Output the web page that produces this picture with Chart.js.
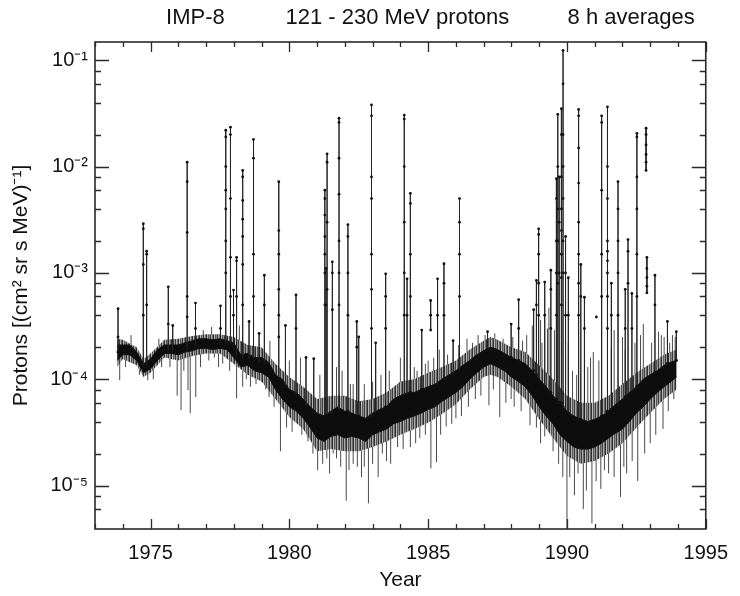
<!DOCTYPE html>
<html><head><meta charset="utf-8">
<script src="https://cdn.jsdelivr.net/npm/chart.js@4/dist/chart.umd.min.js"></script>
<style>html,body{margin:0;padding:0;background:#fff}#wrap{width:740px;height:596px}</style>
</head><body><div id="wrap"><canvas id="c" width="740" height="596"></canvas></div>
<script>
// ---------- DATA ----------
const titleParts = ['IMP-8', '121 - 230 MeV protons', '8 h averages'];
const xTitle = 'Year';
const yTitle = 'Protons [(cm\u00B2 sr s MeV)\u207B\u00B9]';
const xTickYears = [1973,1974,1975,1976,1977,1978,1979,1980,1981,1982,1983,1984,1985,1986,1987,1988,1989,1990,1991,1992,1993,1994,1995];
const xLabelYears = [1975,1980,1985,1990,1995];
const yMajorValues = [1e-5,1e-4,1e-3,1e-2,1e-1];
const yMajorLabels = ['10\u207B\u2075','10\u207B\u2074','10\u207B\u00B3','10\u207B\u00B2','10\u207B\u00B9'];
const yMinorValues = [6e-6,8e-6,2e-5,4e-5,6e-5,8e-5,2e-4,4e-4,6e-4,8e-4,2e-3,4e-3,6e-3,8e-3,2e-2,4e-2,6e-2,8e-2];

// dense core of the quiet-time band
const coreYears = [1973.80,1974.00,1974.25,1974.50,1974.75,1975.00,1975.25,1975.50,1975.75,1976.00,1976.25,1976.50,1976.75,1977.00,1977.25,1977.50,1977.75,1978.00,1978.25,1978.50,1978.75,1979.00,1979.25,1979.50,1979.75,1980.00,1980.25,1980.50,1980.75,1981.00,1981.25,1981.50,1981.75,1982.00,1982.25,1982.50,1982.75,1983.00,1983.25,1983.50,1983.75,1984.00,1984.25,1984.50,1984.75,1985.00,1985.25,1985.50,1985.75,1986.00,1986.25,1986.50,1986.75,1987.00,1987.25,1987.50,1987.75,1988.00,1988.25,1988.50,1988.75,1989.00,1989.25,1989.50,1989.75,1990.00,1990.25,1990.50,1990.75,1991.00,1991.25,1991.50,1991.75,1992.00,1992.25,1992.50,1992.75,1993.00,1993.25,1993.50,1993.75,1993.95];
const coreHigh = [2.1e-4,2.1e-4,2.1e-4,1.8e-4,1.4e-4,1.55e-4,1.9e-4,2.1e-4,2.1e-4,2.1e-4,2.2e-4,2.3e-4,2.4e-4,2.4e-4,2.35e-4,2.4e-4,2.3e-4,2.2e-4,1.7e-4,1.75e-4,1.6e-4,1.6e-4,1.45e-4,1.1e-4,1.0e-4,8e-5,7.5e-5,6.5e-5,5.5e-5,4.8e-5,4.5e-5,5.0e-5,5.5e-5,5.0e-5,4.8e-5,4.5e-5,4.3e-5,4.8e-5,5.2e-5,5.5e-5,6.5e-5,7e-5,7.5e-5,7.5e-5,8e-5,8.5e-5,9e-5,1.0e-4,1.1e-4,1.2e-4,1.35e-4,1.5e-4,1.7e-4,1.85e-4,2.0e-4,1.9e-4,1.75e-4,1.6e-4,1.5e-4,1.4e-4,1.2e-4,1.0e-4,8.5e-5,7e-5,6e-5,5.0e-5,4.5e-5,4.2e-5,4.0e-5,4.2e-5,4.5e-5,5.0e-5,5.8e-5,6.5e-5,7.5e-5,8.5e-5,1.0e-4,1.1e-4,1.2e-4,1.35e-4,1.45e-4,1.5e-4];
const coreLow = [1.5e-4,1.7e-4,1.7e-4,1.5e-4,1.15e-4,1.25e-4,1.5e-4,1.75e-4,1.75e-4,1.7e-4,1.8e-4,1.85e-4,1.95e-4,1.95e-4,1.9e-4,1.95e-4,1.9e-4,1.6e-4,1.3e-4,1.35e-4,1.2e-4,1.15e-4,1.05e-4,8e-5,6.5e-5,5.5e-5,5.0e-5,4.3e-5,3.5e-5,2.8e-5,2.6e-5,2.9e-5,3.0e-5,2.8e-5,2.9e-5,2.8e-5,2.6e-5,3.0e-5,3.2e-5,3.4e-5,3.8e-5,4e-5,4.3e-5,4.5e-5,4.8e-5,5.2e-5,5.5e-5,6.2e-5,6.8e-5,7.5e-5,8.5e-5,1.0e-4,1.15e-4,1.3e-4,1.4e-4,1.3e-4,1.2e-4,1.05e-4,9.5e-5,8.5e-5,7e-5,5.5e-5,4.5e-5,3.8e-5,3.0e-5,2.6e-5,2.3e-5,2.2e-5,2.2e-5,2.3e-5,2.5e-5,2.8e-5,3.1e-5,3.4e-5,4.0e-5,4.8e-5,5.5e-5,6.5e-5,7.5e-5,8.5e-5,9.5e-5,1.05e-4];

// grey fuzz around the band
const fuzzYears = [1973.80,1974.00,1974.50,1974.75,1975.00,1975.50,1976.00,1976.50,1977.00,1977.50,1978.00,1978.50,1979.00,1979.50,1980.00,1980.50,1981.00,1981.50,1982.00,1982.50,1983.00,1983.50,1984.00,1984.50,1985.00,1985.50,1986.00,1986.50,1987.00,1987.25,1987.50,1988.00,1988.50,1989.00,1989.50,1990.00,1990.50,1991.00,1991.50,1992.00,1992.50,1993.00,1993.50,1993.95];
const fuzzHigh = [2.4e-4,2.35e-4,2.0e-4,1.55e-4,1.75e-4,2.35e-4,2.4e-4,2.55e-4,2.65e-4,2.65e-4,2.5e-4,2.1e-4,2.0e-4,1.4e-4,1.05e-4,8.5e-5,6.5e-5,7e-5,7e-5,6.2e-5,6.5e-5,7.5e-5,9.5e-5,1.0e-4,1.15e-4,1.3e-4,1.5e-4,1.9e-4,2.3e-4,2.5e-4,2.35e-4,2.0e-4,1.8e-4,1.35e-4,1.0e-4,7e-5,6e-5,6e-5,7e-5,9e-5,1.15e-4,1.4e-4,1.7e-4,1.9e-4];
const fuzzLow = [1.3e-4,1.55e-4,1.35e-4,1.05e-4,1.15e-4,1.6e-4,1.5e-4,1.65e-4,1.75e-4,1.75e-4,1.4e-4,1.1e-4,9.5e-5,6.5e-5,4.4e-5,3.4e-5,2.1e-5,2.2e-5,2.1e-5,2.1e-5,2.3e-5,2.6e-5,3.0e-5,3.4e-5,3.9e-5,4.7e-5,5.8e-5,8e-5,1.05e-4,1.1e-4,1.05e-4,8.5e-5,6.5e-5,4.2e-5,2.8e-5,1.9e-5,1.6e-5,1.7e-5,2.0e-5,2.5e-5,3.5e-5,4.8e-5,6.5e-5,8e-5];

// single grey excursions (dips below and small rises above the band)
const noiseYears = [1973.89,1974.90,1975.70,1975.96,1976.10,1976.35,1976.43,1976.63,1977.30,1977.60,1978.10,1978.32,1978.60,1979.00,1979.27,1979.68,1980.20,1980.67,1981.02,1981.20,1981.58,1981.85,1982.05,1982.30,1982.60,1982.85,1983.20,1983.50,1983.90,1984.36,1984.70,1985.10,1985.30,1985.65,1986.00,1986.70,1987.19,1987.58,1987.99,1988.67,1989.20,1989.50,1990.00,1990.27,1990.59,1990.90,1991.22,1991.50,1991.93,1992.15,1992.55,1993.00,1993.46,1993.85,
  1974.10,1974.60,1975.10,1975.40,1976.20,1976.80,1977.10,1977.45,1977.85,1978.45,1978.80,1979.15,1979.45,1979.90,1980.10,1980.45,1980.85,1981.35,1981.45,1981.70,1982.15,1982.45,1982.70,1983.00,1983.35,1983.65,1984.10,1984.55,1984.90,1985.45,1985.85,1986.20,1986.45,1986.90,1987.35,1987.80,1988.10,1988.35,1988.90,1989.05,1989.70,1989.85,1990.10,1990.40,1990.70,1991.05,1991.35,1991.70,1992.05,1992.35,1992.80,1993.20,1993.65,
  1974.30,1975.30,1976.90,1977.20,1978.20,1979.30,1980.00,1980.40,1981.10,1981.70,1982.30,1982.70,1983.30,1983.80,1984.50,1984.90,1985.20,1985.70,1986.40,1986.80,1987.40,1987.70,1988.55,1989.10,1989.35,1989.95,1990.20,1990.75,1990.95,1991.60,1992.00,1992.65,1992.75,1993.30,1993.50,1993.80,
  1981.90,1982.20,1983.00,1983.60,1984.00,1984.60,1985.00,1985.40,1986.10,1986.60,1987.05,1988.05,1988.40,1988.75,1989.05,1989.30,1989.55,1990.05,1990.35,1990.85,1991.15,1991.70,1992.10,1992.45,1993.05,1993.40,1993.70,1993.90];
const noiseLow = [9.8e-5,9.8e-5,1.3e-4,7e-5,5.1e-5,7.9e-5,4.8e-5,6.8e-5,1.6e-4,1.4e-4,6.6e-5,8.5e-5,8.5e-5,9.5e-5,6.8e-5,2.1e-5,4.9e-5,2.6e-5,1.39e-5,1.6e-5,2.0e-5,1.5e-5,7.2e-6,1.6e-5,1.2e-5,6.8e-6,1.2e-5,1.7e-5,2.3e-5,2.3e-5,2.8e-5,1.45e-5,1.66e-5,3.6e-5,4.3e-5,6.5e-5,5.7e-5,4.4e-5,6.5e-5,3.7e-5,2.9e-5,2.1e-5,3.9e-6,8.1e-6,6.0e-6,4.4e-6,9.3e-6,1.3e-5,7.8e-6,1.3e-5,1.1e-5,2.5e-5,3.4e-5,6.5e-5,
  1.3e-4,1.1e-4,1.0e-4,1.3e-4,1.2e-4,1.3e-4,1.5e-4,1.3e-4,1.2e-4,1.0e-4,9e-5,8e-5,5.5e-5,3.5e-5,3.2e-5,3e-5,2e-5,1.8e-5,1.3e-5,1.8e-5,1.4e-5,1.5e-5,1.5e-5,1.6e-5,2e-5,1.6e-5,2.2e-5,2.5e-5,3e-5,3e-5,3.8e-5,4.5e-5,5.5e-5,7e-5,8e-5,6e-5,5.5e-5,5e-5,3.5e-5,2.5e-5,1.6e-5,1.2e-5,1.2e-5,1.3e-5,9e-6,1.1e-5,1.4e-5,1.2e-5,1.5e-5,1.7e-5,2e-5,3e-5,5e-5,
  2.0e-4,1.9e-4,2.4e-4,2.35e-4,1.9e-4,1.4e-4,8e-5,7e-5,4.7e-5,5.4e-5,4.7e-5,4.4e-5,5.3e-5,6.5e-5,7.5e-5,8.2e-5,8.8e-5,1.08e-4,1.45e-4,1.72e-4,1.95e-4,1.78e-4,1.38e-4,9.5e-5,7.8e-5,5e-5,4.6e-5,4e-5,4.1e-5,5.2e-5,6.5e-5,9.2e-5,1.0e-4,1.22e-4,1.35e-4,1.46e-4,
  5.5e-5,5e-5,4.8e-5,6e-5,7e-5,7.5e-5,8.5e-5,9.5e-5,1.25e-4,1.55e-4,1.9e-4,1.6e-4,1.45e-4,1.2e-4,1e-4,8e-5,7e-5,5e-5,4.4e-5,4e-5,4.3e-5,5.6e-5,6.8e-5,8e-5,1.1e-4,1.3e-4,1.43e-4,1.5e-4];
const noiseHigh = [1.6e-4,1.2e-4,1.7e-4,1.7e-4,1.7e-4,1.8e-4,1.8e-4,1.9e-4,1.9e-4,1.9e-4,1.5e-4,1.3e-4,1.3e-4,1.15e-4,1.05e-4,7e-5,5.5e-5,4e-5,3e-5,2.8e-5,3e-5,3e-5,2.8e-5,2.9e-5,2.8e-5,2.7e-5,3.1e-5,3.4e-5,3.9e-5,4.3e-5,4.7e-5,5.2e-5,5.5e-5,6.2e-5,7.5e-5,1.1e-4,1.35e-4,1.3e-4,1.05e-4,7.5e-5,4.7e-5,3.8e-5,2.6e-5,2.3e-5,2.2e-5,2.2e-5,2.5e-5,2.8e-5,3.3e-5,3.7e-5,4.8e-5,6.5e-5,8.3e-5,1.0e-4,
  1.7e-4,1.5e-4,1.3e-4,1.6e-4,1.7e-4,1.9e-4,1.95e-4,1.9e-4,1.9e-4,1.35e-4,1.2e-4,1.15e-4,8e-5,6e-5,5.5e-5,4.5e-5,3.5e-5,2.6e-5,2.8e-5,3e-5,2.8e-5,2.8e-5,2.6e-5,3e-5,3.3e-5,3.6e-5,4e-5,4.5e-5,5e-5,5.8e-5,7e-5,8.5e-5,1e-4,1.2e-4,1.4e-4,1.2e-4,1e-4,9.5e-5,6.5e-5,5.5e-5,3.2e-5,3e-5,2.5e-5,2.2e-5,2.2e-5,2.3e-5,2.6e-5,3e-5,3.5e-5,4e-5,5.5e-5,7.5e-5,9e-5,
  2.6e-4,2.4e-4,2.9e-4,3.1e-4,3.2e-4,2.3e-4,1.5e-4,1.6e-4,1.1e-4,1.3e-4,9e-5,9e-5,1.1e-4,8e-5,1.3e-4,1.4e-4,1.6e-4,1.7e-4,2.4e-4,2.6e-4,2.7e-4,2.4e-4,2.6e-4,2.2e-4,4.7e-4,1.6e-4,1.2e-4,1.3e-4,1.8e-4,2.0e-4,2.5e-4,2.6e-4,3.3e-4,2.8e-4,2.5e-4,2.6e-4,
  1.2e-4,9e-5,9.5e-5,1.2e-4,1.6e-4,1.2e-4,1.5e-4,1.9e-4,2.1e-4,2.2e-4,2.6e-4,2.5e-4,2.3e-4,3.2e-4,3.6e-4,3e-4,2.9e-4,2.2e-4,1.1e-4,1.6e-4,1.5e-4,2.9e-4,1.9e-4,2.2e-4,2.2e-4,2.6e-4,2.2e-4,2.5e-4];

// solar particle events: onset level, peak and the following 8 h values
const spikeYears = [1973.83,1974.74,1974.86,1975.64,1975.80,1976.32,1976.62,1977.52,1977.71,1977.88,1977.99,1978.10,1978.32,1978.55,1978.71,1978.91,1979.10,1979.62,1979.86,1980.24,1980.60,1980.88,1981.28,1981.32,1981.36,1981.55,1981.79,1982.11,1982.43,1982.50,1982.96,1983.11,1983.47,1984.14,1984.24,1984.36,1984.77,1985.34,1985.57,1985.90,1986.13,1987.14,1987.99,1988.26,1988.80,1988.90,1988.98,1989.20,1989.42,1989.62,1989.67,1989.72,1989.80,1989.86,1989.95,1990.05,1990.42,1990.50,1990.63,1991.25,1991.46,1991.60,1991.84,1992.10,1992.20,1992.34,1992.52,1993.17,1993.62,1993.94];
const spikeBase = [1.8e-4,1.3e-4,1.3e-4,1.8e-4,1.8e-4,1.9e-4,2.0e-4,2.1e-4,2.1e-4,2.1e-4,2.0e-4,1.6e-4,1.5e-4,1.5e-4,1.5e-4,1.4e-4,1.4e-4,1.0e-4,8.5e-5,7e-5,5.5e-5,5e-5,4.5e-5,4.5e-5,4.5e-5,4.8e-5,5e-5,5e-5,4.5e-5,4.5e-5,4.5e-5,4.8e-5,5.5e-5,7e-5,7e-5,7.5e-5,8e-5,9e-5,1e-4,1.1e-4,1.2e-4,1.9e-4,1.6e-4,1.5e-4,1.2e-4,1.1e-4,1.0e-4,8.5e-5,7.5e-5,6.5e-5,6e-5,6e-5,6e-5,5.5e-5,5e-5,4.8e-5,4.2e-5,4.2e-5,4e-5,4.5e-5,5e-5,5.2e-5,5.8e-5,6.8e-5,7e-5,7.5e-5,8.5e-5,1.15e-4,1.4e-4,1.5e-4];
const spikePeaks = [4.6e-4,2.9e-3,1.6e-3,7.4e-4,3.2e-4,1.1e-2,5.2e-4,4.9e-4,2.2e-2,2.35e-2,6.9e-4,1.4e-3,9.2e-3,3.5e-4,1.8e-2,2.7e-4,9.5e-4,7.2e-3,3.2e-4,6.2e-4,1.6e-4,1.56e-4,6e-3,1.1e-3,1.32e-2,1.27e-3,2.85e-2,2.85e-3,3.5e-4,2.5e-4,3.8e-2,2.2e-4,9.8e-4,3.05e-2,8.8e-4,5.6e-3,2.9e-4,8.8e-4,1.22e-3,2.3e-4,5.0e-3,2.8e-4,3.3e-4,5.6e-4,4.5e-4,8.5e-4,2.6e-3,8.2e-4,1.06e-3,7.7e-3,3.1e-2,8e-3,3.5e-2,1.24e-1,2.2e-3,9e-4,3.45e-2,1.2e-3,5.9e-4,3.0e-2,3.65e-2,8e-4,7.2e-3,7e-4,2.06e-3,6.4e-4,2.05e-2,9.5e-4,3.5e-4,2.8e-4];
const spikeDecay = [[2.5e-4],[2.6e-3,1.2e-3,4e-4],[1.5e-3,5e-4],[3.3e-4],[],[7.2e-3,2.4e-3,6e-4,3.85e-4],[3e-4],[3e-4],[1.9e-2,1e-2,6e-3,4e-3,2e-3,1e-3],[2e-2,5e-3,1.4e-3,6e-4],[4e-4],[1.3e-3,6e-4],[8e-3,4.8e-3,3.2e-3,2.2e-3,1.2e-3,5e-4],[],[1.2e-2,1.5e-3,6e-4],[],[5e-4],[2.5e-3,1.5e-3,7e-4,4e-4,2.5e-4],[],[3e-4],[],[],[5e-3,3.5e-3,2.2e-3,1.5e-3,1e-3,5e-4],[5e-4],[1.1e-2,3e-3,7e-4],[1e-3,4.5e-4],[2.6e-2,1.2e-2,5.5e-3,2e-3,1e-3,5e-4],[2.2e-3,1e-3,4e-4],[2e-4],[],[3e-2,8e-3,5e-3,1.5e-3,7e-4,3e-4],[],[6e-4,3e-4],[2.8e-2,1e-2,3e-3,1e-3,4e-4],[4e-4],[4.5e-3,1.5e-3,6e-4],[],[4e-4],[8e-4,4e-4],[],[3e-3,1.5e-3,6e-4],[],[],[3e-4],[],[5e-4],[2.3e-3,1.5e-3,8e-4,4e-4],[4e-4],[7e-4,3e-4],[5e-3,2e-3,1e-3,4e-4],[1e-2,4e-3,2e-3,8e-4],[3e-3,1e-3],[2e-2,8e-3,4e-3,2.5e-3,1.5e-3,9e-4,5e-4],[6e-2,2e-2,1e-2,5e-3,2e-3,1e-3],[1e-3,4e-4],[4e-4],[3e-2,1.5e-2,7e-3,3e-3,1.5e-3,8e-4,4e-4],[6e-4],[3e-4],[2.6e-2,6e-3,1.5e-3,6e-4],[1e-2,5e-3,2e-3,1.6e-3,1.3e-3,1e-3,6e-4,3e-4],[4e-4],[4e-3,2e-3,1e-3,4e-4],[3e-4],[1.6e-3,8e-4],[3e-4],[1.9e-2,8e-3,4e-3,1.5e-3,6e-4],[5e-4],[],[]];

// isolated runs of 8 h values (data gaps around them)
const segYears = [1985.09,1991.06,1992.85,1992.88];
const segValues = [[5.5e-4,4e-4,2.9e-4],[3.85e-4],[2.3e-2,2e-2,1.6e-2,1.3e-2,1.1e-2,9.2e-3],[1.4e-3,1.1e-3,9e-4,7.5e-4,6.5e-4]];

// ---------- BUILD ----------
const FONT = "'Liberation Sans', Arial, Helvetica, sans-serif";
const INK = '#111';
const pts = (xs, ys) => xs.map((x, i) => ({x, y: ys[i]}));
const noisePts = [];
noiseYears.forEach((t, i) => { noisePts.push({x:t, y:noiseLow[i]}, {x:t, y:noiseHigh[i]}, {x:t, y:null}); });
const spikePts = [];
spikeYears.forEach((t, i) => {
  spikePts.push({x:t, y:spikeBase[i]}, {x:t, y:spikePeaks[i]});
  spikeDecay[i].forEach(v => spikePts.push({x:t, y:v}));
  spikePts.push({x:t, y:spikeBase[i]}, {x:t, y:null});
});
segYears.forEach((t, i) => { segValues[i].forEach(v => spikePts.push({x:t, y:v})); spikePts.push({x:t, y:null}); });

// striped grey fill for the fuzzy edge of the band
function stripePattern() {
  const shades = ['#3c3c3c','#a8a8a8','#6a6a6a','#2e2e2e','#b8b8b8','#585858','#8c8c8c'];
  const c = document.createElement('canvas'); c.width = shades.length; c.height = 1;
  const g = c.getContext('2d');
  shades.forEach((s, i) => { g.fillStyle = s; g.fillRect(i, 0, 1, 1); });
  return g.createPattern(c, 'repeat');
}

const titlePlugin = {
  id: 'titleParts',
  afterDraw(chart) {
    const ctx = chart.ctx, w = chart.width;
    ctx.save();
    ctx.font = '22px ' + FONT; ctx.fillStyle = INK;
    ctx.textAlign = 'center'; ctx.textBaseline = 'middle';
    const fr = [0.264, 0.537, 0.853];
    titleParts.forEach((s, i) => ctx.fillText(s, w * fr[i], 18));
    ctx.restore();
  }
};
const framePlugin = {
  id: 'frameTicks',
  afterDraw(chart) {
    const {ctx, chartArea: a, scales: {x, y}} = chart;
    ctx.save();
    ctx.strokeStyle = '#2a2a2a';
    ctx.lineWidth = 1.6;
    ctx.strokeRect(a.left, a.top, a.right - a.left, a.bottom - a.top);
    ctx.lineWidth = 1.3;
    ctx.beginPath();
    x.ticks.forEach(t => {
      const px = Math.round(x.getPixelForValue(t.value)) + 0.5;
      const L = xLabelYears.includes(t.value) ? 10 : 5;
      ctx.moveTo(px, a.bottom); ctx.lineTo(px, a.bottom - L);
      ctx.moveTo(px, a.top); ctx.lineTo(px, a.top + L);
    });
    y.ticks.forEach(t => {
      const py = Math.round(y.getPixelForValue(t.value)) + 0.5;
      const L = yMajorValues.includes(t.value) ? 14 : 6;
      ctx.moveTo(a.left, py); ctx.lineTo(a.left + L, py);
      ctx.moveTo(a.right, py); ctx.lineTo(a.right - L, py);
    });
    ctx.stroke();
    ctx.restore();
  }
};

new Chart(document.getElementById('c'), {
  type: 'line',
  data: { datasets: [
    { label: 'events', data: spikePts, borderColor: '#222', borderWidth: 1, pointRadius: 1.4, pointBackgroundColor: '#111', pointBorderWidth: 0, spanGaps: false, fill: false, order: 0 },
    { label: 'core low', data: pts(coreYears, coreLow), borderColor: '#111', borderWidth: 1, pointRadius: 0, fill: false, order: 1 },
    { label: 'core high', data: pts(coreYears, coreHigh), borderColor: '#111', borderWidth: 1, pointRadius: 0, fill: '-1', backgroundColor: '#0d0d0d', order: 1 },
    { label: 'fuzz low', data: pts(fuzzYears, fuzzLow), borderColor: 'rgba(0,0,0,0)', borderWidth: 0, pointRadius: 0, fill: false, order: 2 },
    { label: 'fuzz high', data: pts(fuzzYears, fuzzHigh), borderColor: 'rgba(0,0,0,0)', borderWidth: 0, pointRadius: 0, fill: '-1', backgroundColor: stripePattern(), order: 2 },
    { label: 'noise', data: noisePts, borderColor: '#4a4a4a', borderWidth: 1, pointRadius: 0, spanGaps: false, fill: false, order: 3 }
  ]},
  options: {
    responsive: false, animation: false, devicePixelRatio: 1,
    layout: { padding: { top: 42, right: 25, left: 0, bottom: 0 } },
    plugins: { legend: { display: false }, tooltip: { enabled: false }, title: { display: false } },
    scales: {
      x: {
        type: 'linear', min: 1973, max: 1995,
        grid: { display: false, drawTicks: false }, border: { display: false },
        afterBuildTicks: s => { s.ticks = xTickYears.map(v => ({value: v})); },
        afterFit: s => { s.height = 67; },
        ticks: { autoSkip: false, maxRotation: 0, padding: 12, color: INK, font: { size: 20, family: FONT },
          callback: v => xLabelYears.includes(v) ? String(v) : '' },
        title: { display: true, text: xTitle, color: INK, font: { size: 21, family: FONT }, padding: { top: 0, bottom: 3 } }
      },
      y: {
        type: 'logarithmic', min: 3.9e-6, max: 0.1486,
        grid: { display: false, drawTicks: false }, border: { display: false },
        afterBuildTicks: s => { s.ticks = yMajorValues.concat(yMinorValues).sort((a, b) => a - b).map(v => ({value: v})); },
        afterFit: s => { s.width = 95; },
        ticks: { autoSkip: false, padding: 7, color: INK, font: { size: 20, family: FONT },
          callback: v => { const i = yMajorValues.indexOf(v); return i >= 0 ? yMajorLabels[i] : ''; } },
        title: { display: true, text: yTitle, color: INK, font: { size: 21, family: FONT }, padding: { top: 9, bottom: 0 } }
      }
    }
  },
  plugins: [titlePlugin, framePlugin]
});
</script></body></html>
